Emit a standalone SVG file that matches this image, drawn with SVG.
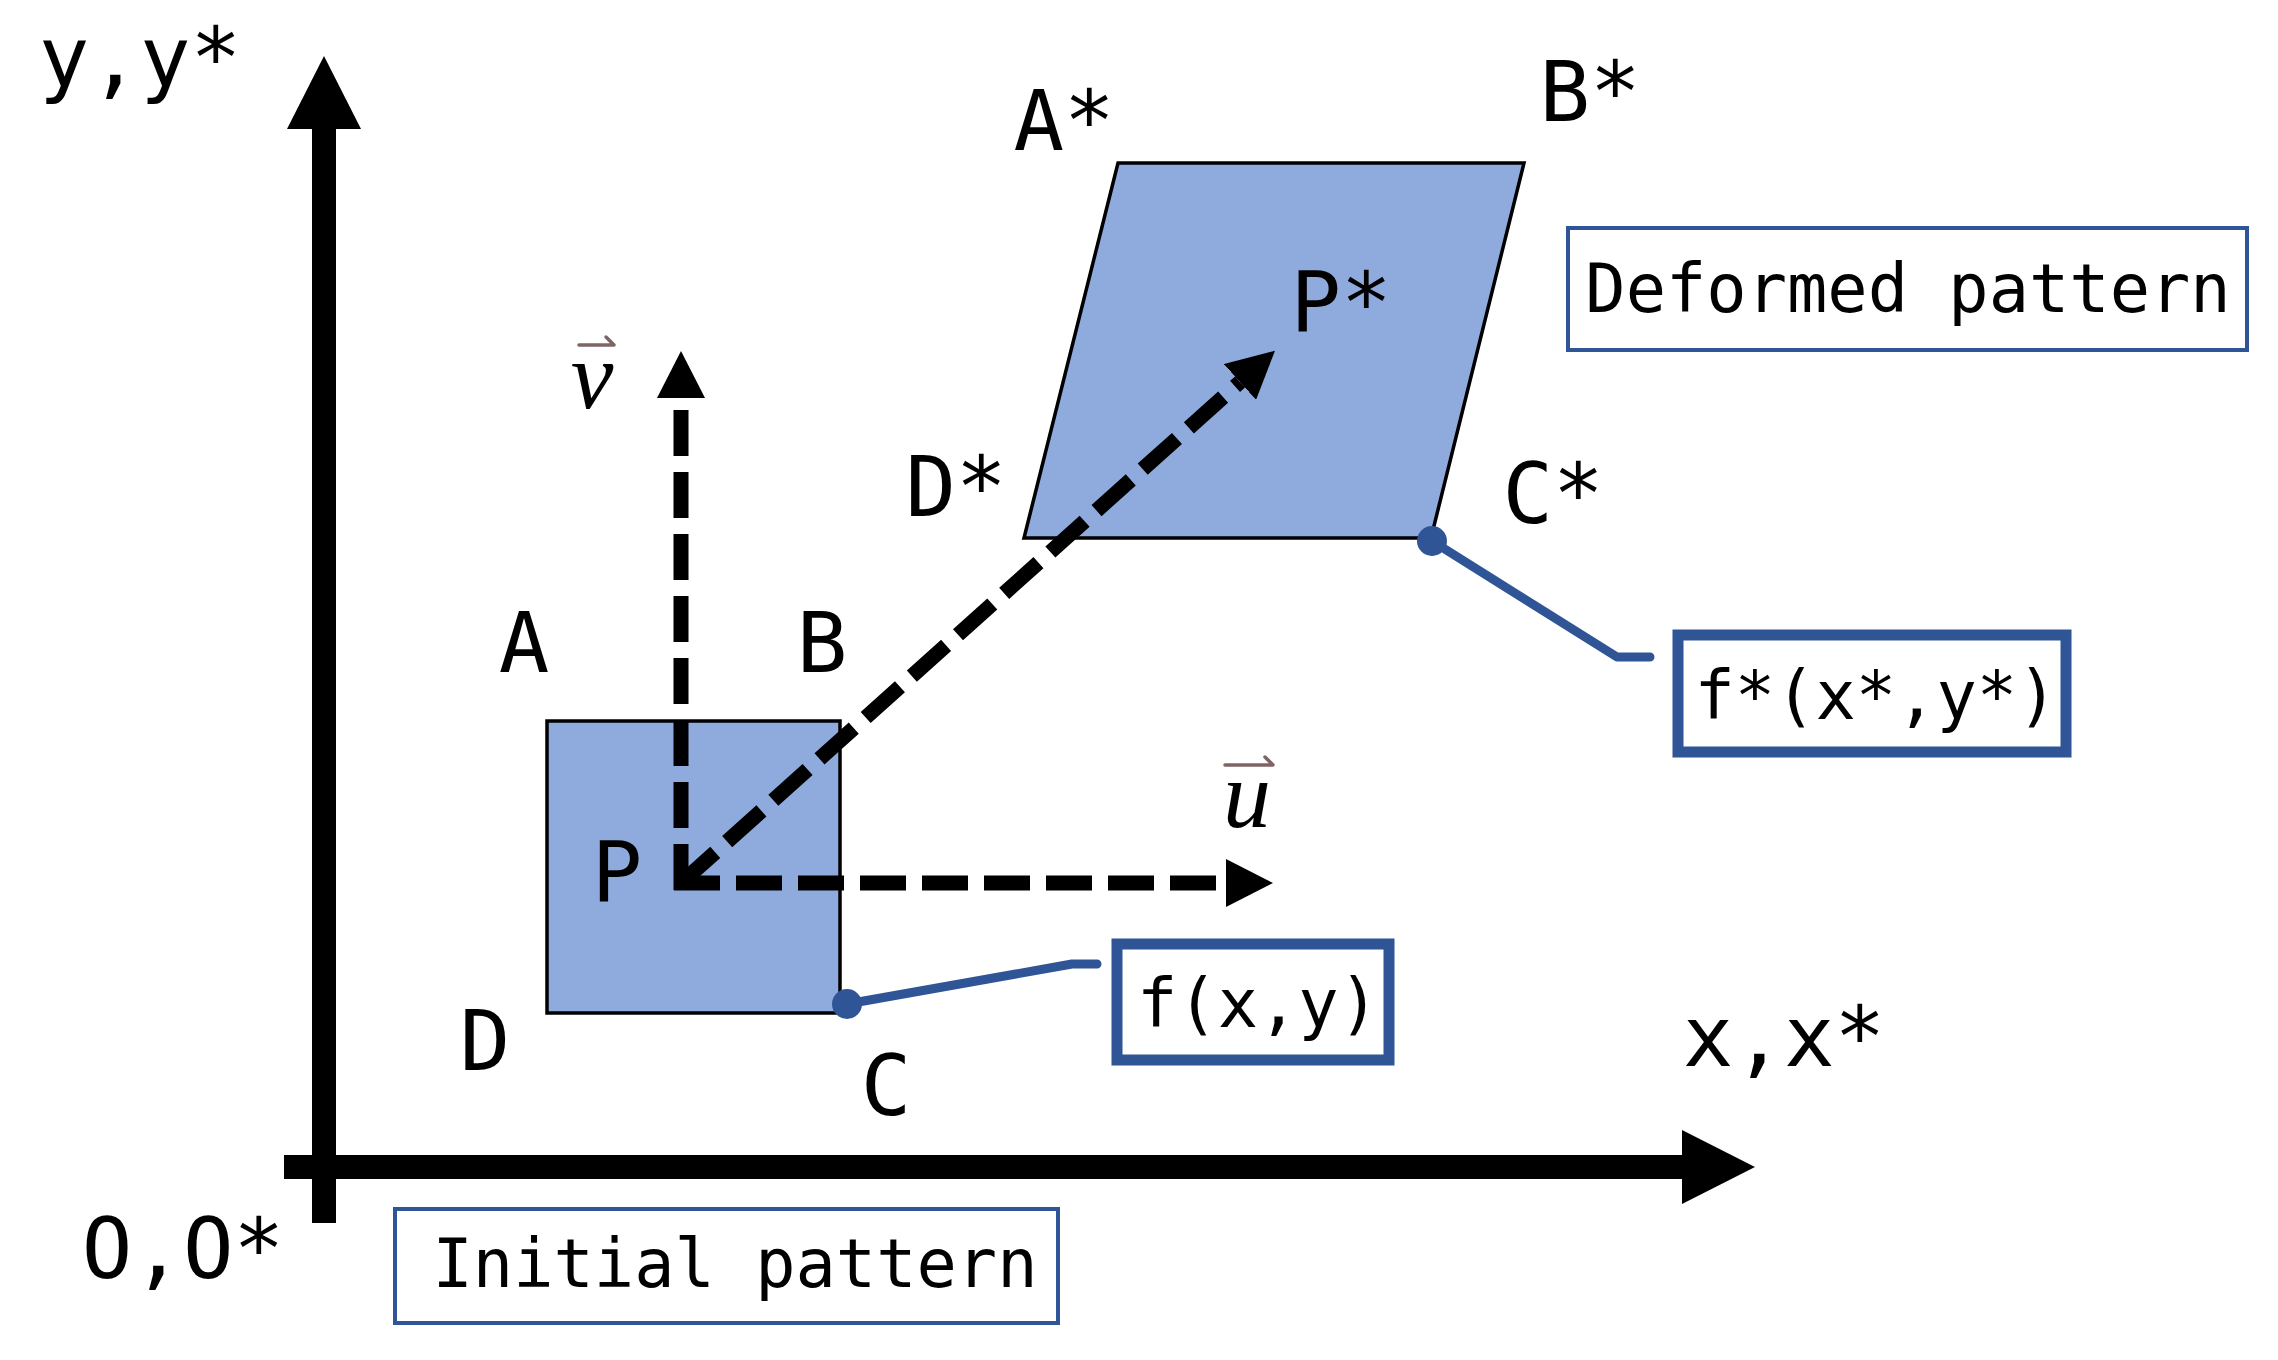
<svg xmlns="http://www.w3.org/2000/svg" width="2278" height="1360" viewBox="0 0 2278 1360">
<style>
.lbl{font-family:"DejaVu Sans Mono","Liberation Mono",monospace;font-size:84px;fill:#000;text-anchor:middle}
.box{font-family:"DejaVu Sans Mono","Liberation Mono",monospace;font-size:67px;fill:#000;text-anchor:middle}
.vec{font-family:"Liberation Serif","DejaVu Serif",serif;font-style:italic;font-size:96px;fill:#000;text-anchor:middle}
.ovr{fill:none;stroke:#7F6464;stroke-width:3.5;stroke-linecap:round;stroke-linejoin:round}
.axis{stroke:#000;stroke-width:24;fill:none}
.dash{stroke:#000;stroke-width:15;fill:none;stroke-dasharray:46 16}
.call{stroke:#2F5597;stroke-width:9;fill:none;stroke-linejoin:round;stroke-linecap:round}
.thin{fill:#fff;stroke:#2F5597;stroke-width:4}
.thick{fill:#fff;stroke:#2F5597;stroke-width:11}
.pat{fill:#8FAADC;stroke:#000;stroke-width:3.5}
</style>
<defs>
<marker id="axhead" markerUnits="userSpaceOnUse" viewBox="0 0 74 74" markerWidth="74" markerHeight="74" refX="0" refY="37" orient="auto"><path d="M0,0 L73,37 L0,74 z" fill="#000"/></marker>
<marker id="dhead" markerUnits="userSpaceOnUse" viewBox="0 0 47 48" markerWidth="47" markerHeight="48" refX="0" refY="24" orient="auto"><path d="M0,0 L47,24 L0,48 z" fill="#000"/></marker>
</defs>
<rect width="2278" height="1360" fill="#fff"/>
<g id="initial-pattern-shape"><rect class="pat" x="547" y="721" width="293" height="292"/></g>
<g id="deformed-pattern-shape"><polygon class="pat" points="1118,163 1524,163 1431,538 1024,538"/></g>
<g id="connectors">
<line class="axis" x1="324" y1="1223" x2="324" y2="129" marker-end="url(#axhead)"/>
<line class="axis" x1="284" y1="1167" x2="1682" y2="1167" marker-end="url(#axhead)"/>
<line class="dash" x1="681" y1="890" x2="681" y2="398" marker-end="url(#dhead)"/>
<line class="dash" x1="674" y1="883" x2="1226" y2="883" marker-end="url(#dhead)"/>
<line class="dash" x1="681" y1="883" x2="1240" y2="382" marker-end="url(#dhead)"/>
<polyline class="call" points="847,1004 1072,964 1097,964"/>
<circle cx="847" cy="1004" r="15" fill="#2F5597"/>
<polyline class="call" points="1432,541 1617,657 1650,657"/>
<circle cx="1432" cy="541" r="15" fill="#2F5597"/>
</g>
<g id="axis-labels">
<text class="lbl" x="140" y="87">y,y*</text>
<text class="lbl" x="1784" y="1066">x,x*</text>
<text class="lbl" x="183" y="1278">O,O*</text>
</g>
<g id="corner-labels">
<text class="lbl" x="524" y="672">A</text>
<text class="lbl" x="822" y="672">B</text>
<text class="lbl" x="617" y="902">P</text>
<text class="lbl" x="485" y="1070">D</text>
<text class="lbl" x="886" y="1115">C</text>
<text class="lbl" x="1064" y="150">A*</text>
<text class="lbl" x="1590" y="121">B*</text>
<text class="lbl" x="1341" y="332">P*</text>
<text class="lbl" x="956" y="516">D*</text>
<text class="lbl" x="1553" y="523">C*</text>
</g>
<g id="vector-v"><text class="vec" x="592" y="408">v</text><path class="ovr" d="M579,345 L614,345 L606,337"/></g>
<g id="vector-u"><text class="vec" x="1247" y="827">u</text><path class="ovr" d="M1225,765 L1273,765 L1265,757"/></g>
<g id="deformed-pattern-label"><rect class="thin" x="1568" y="228" width="679" height="122"/><text class="box" x="1908" y="312">Deformed pattern</text></g>
<g id="initial-pattern-label"><rect class="thin" x="395" y="1209" width="663" height="114"/><text class="box" x="735" y="1287">Initial pattern</text></g>
<g id="fxy-label"><rect class="thick" x="1117" y="944" width="272" height="116"/><text class="box" x="1258" y="1027">f(x,y)</text></g>
<g id="fstar-label"><rect class="thick" x="1678" y="635" width="388" height="117"/><text class="box" x="1876" y="719">f*(x*,y*)</text></g>
</svg>
